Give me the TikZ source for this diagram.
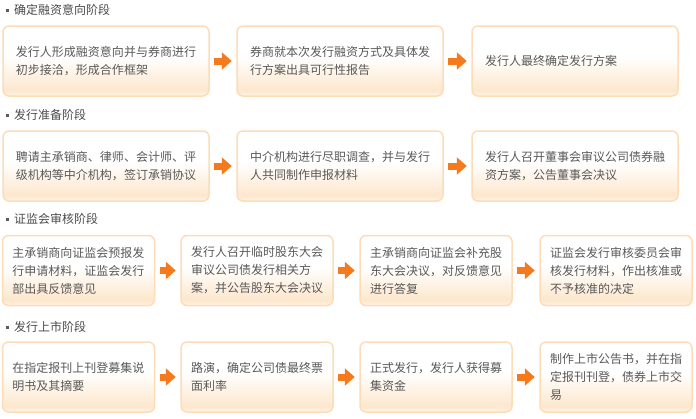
\documentclass[tikz,border=0pt]{standalone}
\usepackage{fontspec}
\setmainfont{Noto Sans CJK SC}
\usetikzlibrary{arrows.meta,calc}
\definecolor{txt}{HTML}{595959}
\definecolor{ttl}{HTML}{4A4A4A}
\definecolor{bord}{HTML}{FDDCB8}
\definecolor{pbot}{HTML}{FFF4E8}
\definecolor{pmid}{HTML}{FDE7CD}
\definecolor{arr}{HTML}{F57A1E}
\pgfdeclareverticalshading{boxshade}{100bp}{color(0bp)=(pbot); color(25bp)=(pbot); color(29bp)=(pmid); color(53bp)=(white); color(100bp)=(white)}
\tikzset{
  stepbox/.style={draw=bord, line width=1.5pt, rounded corners=6pt, shading=boxshade,
    text=txt, font=\fontsize{12}{18}\selectfont, align=left, minimum height=70pt, inner ysep=0pt},
  wide/.style={stepbox, text width=180pt, inner xsep=13pt},
  narrow/.style={stepbox, text width=132pt, inner xsep=10pt},
  flow/.style={draw=arr, line width=7pt, shorten <=4.5pt, shorten >=4.5pt,
    -{Triangle[width=17pt,length=10pt]}},
  title/.style={anchor=west, text=ttl, font=\fontsize{12}{14}\selectfont, inner sep=0pt},
  bullet/.style={fill=ttl!90, minimum size=3pt, inner sep=0pt}
}
\begin{document}
\begin{tikzpicture}[x=1pt,y=-1pt]
\useasboundingbox (0,0) rectangle (696,418);
% titles
\node[bullet] (b1) at (7.5,10.5) {};
\node[title] (t1) at (14,10) {确定融资意向阶段};
\node[bullet] (b2) at (7.5,115.5) {};
\node[title] (t2) at (14,115) {发行准备阶段};
\node[bullet] (b3) at (7.5,219.5) {};
\node[title] (t3) at (14,219) {证监会审核阶段};
\node[bullet] (b4) at (7.5,327.5) {};
\node[title] (t4) at (14,327) {发行上市阶段};
% row 1
\node[wide] (a1) at (106,61) {发行人形成融资意向并与券商进行\\初步接洽，形成合作框架};
\node[wide] (a2) at (340,61) {券商就本次发行融资方式及具体发\\行方案出具可行性报告};
\node[wide] (a3) at (575,61) {发行人最终确定发行方案};
\draw[flow] (a1.east) -- (a2.west);
\draw[flow] (a2.east) -- (a3.west);
% row 2
\node[wide] (c1) at (106,166) {聘请主承销商、律师、会计师、评\\级机构等中介机构，签订承销协议};
\node[wide] (c2) at (340,166) {中介机构进行尽职调查，并与发行\\人共同制作申报材料};
\node[wide] (c3) at (575,166) {发行人召开董事会审议公司债券融\\资方案，公告董事会决议};
\draw[flow] (c1.east) -- (c2.west);
\draw[flow] (c2.east) -- (c3.west);
% row 3
\node[narrow] (d1) at (78.5,270.5) {主承销商向证监会预报发\\行申请材料，证监会发行\\部出具反馈意见};
\node[narrow] (d2) at (257,270.5) {发行人召开临时股东大会\\审议公司债发行相关方\\案，并公告股东大会决议};
\node[narrow] (d3) at (436,270.5) {主承销商向证监会补充股\\东大会决议，对反馈意见\\进行答复};
\node[narrow] (d4) at (616,270.5) {证监会发行审核委员会审\\核发行材料，作出核准或\\不予核准的决定};
\draw[flow] (d1.east) -- (d2.west);
\draw[flow] (d2.east) -- (d3.west);
\draw[flow] (d3.east) -- (d4.west);
% row 4
\node[narrow] (e1) at (78.5,377) {在指定报刊上刊登募集说\\明书及其摘要};
\node[narrow] (e2) at (257,377) {路演，确定公司债最终票\\面利率};
\node[narrow] (e3) at (436,377) {正式发行，发行人获得募\\集资金};
\node[narrow] (e4) at (616,377) {制作上市公告书，并在指\\定报刊刊登，债券上市交\\易};
\draw[flow] (e1.east) -- (e2.west);
\draw[flow] (e2.east) -- (e3.west);
\draw[flow] (e3.east) -- (e4.west);
\end{tikzpicture}
\end{document}
